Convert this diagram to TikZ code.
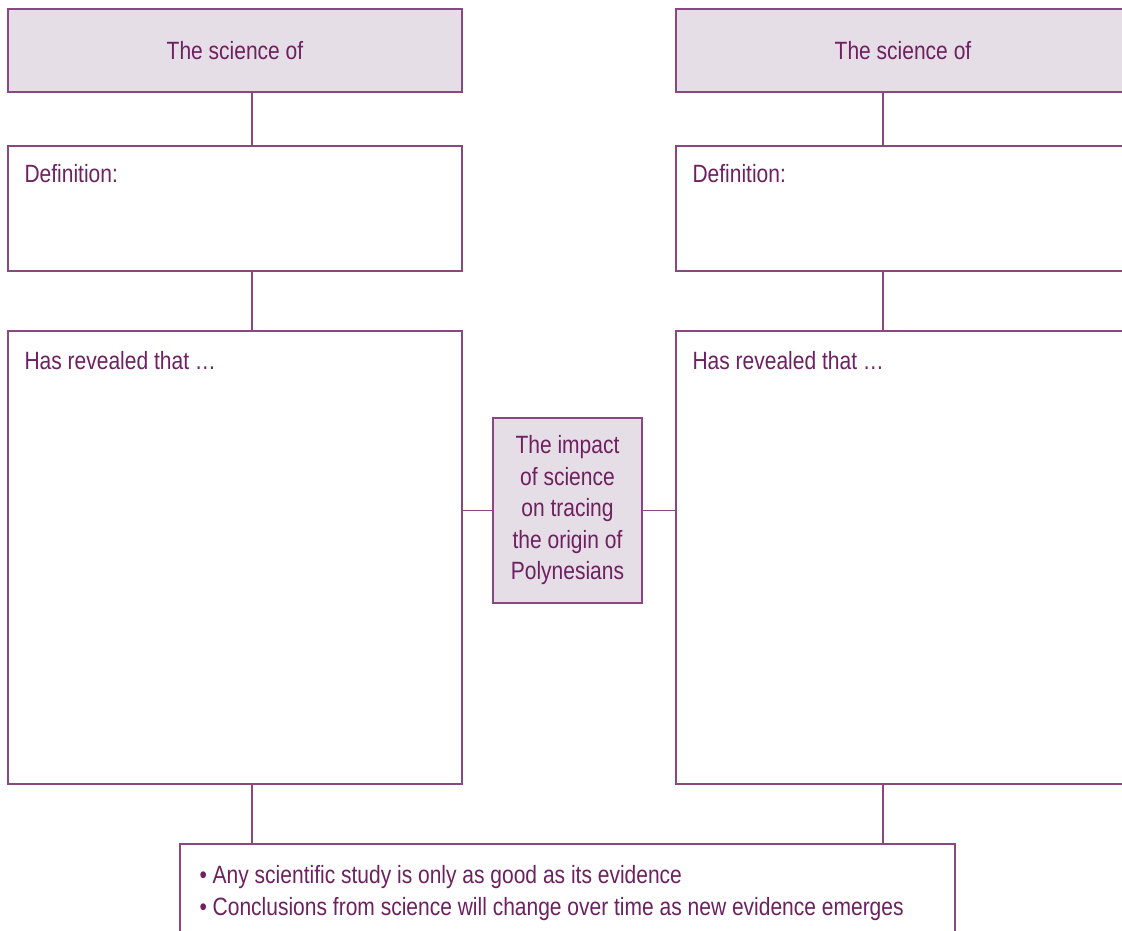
\documentclass[tikz,border=0pt]{standalone}
\usepackage{fontspec}
\setmainfont{Liberation Sans}[FakeStretch=0.84]
\usepackage{tikz}
\definecolor{plum}{RGB}{110,32,96}
\definecolor{plumline}{RGB}{138,72,128}
\definecolor{plumfill}{RGB}{230,222,230}

\begin{document}
\begin{tikzpicture}[x=1pt, y=-1pt, font=\fontsize{25}{30}\selectfont]
	\tikzstyle{box} = [draw=plumline, line width=1.3pt, rectangle, inner sep=0pt, text=plum]
	\tikzstyle{headbox} = [box, fill=plumfill, minimum width=454pt, minimum height=83pt]
	\tikzstyle{defbox} = [box, minimum width=454pt, minimum height=125pt]
	\tikzstyle{revbox} = [box, minimum width=454pt, minimum height=453pt]
	\tikzstyle{boxtext} = [anchor=north west, inner sep=0pt, text=plum, xshift=17pt]
	\tikzstyle{link} = [draw=plumline, line width=1.3pt]
	\useasboundingbox (0,0) rectangle (1122,931);
	\clip (0,0) rectangle (1122,931);
	% left column
	\node (headL) [headbox] at (235,50.5) {The science of};
	\node (defL) [defbox, label={[boxtext, yshift=-19pt]north west:Definition:}] at (235,208.5) {};
	\node (revL) [revbox, label={[boxtext, yshift=-21pt]north west:Has revealed that …}] at (235,557.5) {};
	% right column
	\node (headR) [headbox] at (903,50.5) {The science of};
	\node (defR) [defbox, label={[boxtext, yshift=-19pt]north west:Definition:}] at (903,208.5) {};
	\node (revR) [revbox, label={[boxtext, yshift=-21pt]north west:Has revealed that …}] at (903,557.5) {};
	% centre and summary
	\node (impact) [box, fill=plumfill, minimum width=149pt, minimum height=185pt, align=center, font=\fontsize{25}{31.5}\selectfont] at (567.5,510.5)
		{The impact\\of science\\on tracing\\the origin of\\Polynesians};
	\node (sumup) [box, minimum width=775pt, minimum height=106pt,
		label={[boxtext, xshift=3pt, yshift=-22pt, align=left, font=\fontsize{25}{32}\selectfont]north west:\textbullet\ Any scientific study is only as good as its evidence\\\textbullet\ Conclusions from science will change over time as new evidence emerges}] at (567.5,897) {};
	% connectors
	\coordinate (stemL) at (252,0);
	\coordinate (stemR) at (883,0);
	\draw[link] (headL.south -| stemL) -- (defL.north -| stemL);
	\draw[link] (defL.south -| stemL) -- (revL.north -| stemL);
	\draw[link] (revL.south -| stemL) -- (sumup.north -| stemL);
	\draw[link] (headR.south -| stemR) -- (defR.north -| stemR);
	\draw[link] (defR.south -| stemR) -- (revR.north -| stemR);
	\draw[link] (revR.south -| stemR) -- (sumup.north -| stemR);
	\draw[link] (impact.west) -- (impact.west -| revL.east);
	\draw[link] (impact.east) -- (impact.east -| revR.west);
\end{tikzpicture}
\end{document}
